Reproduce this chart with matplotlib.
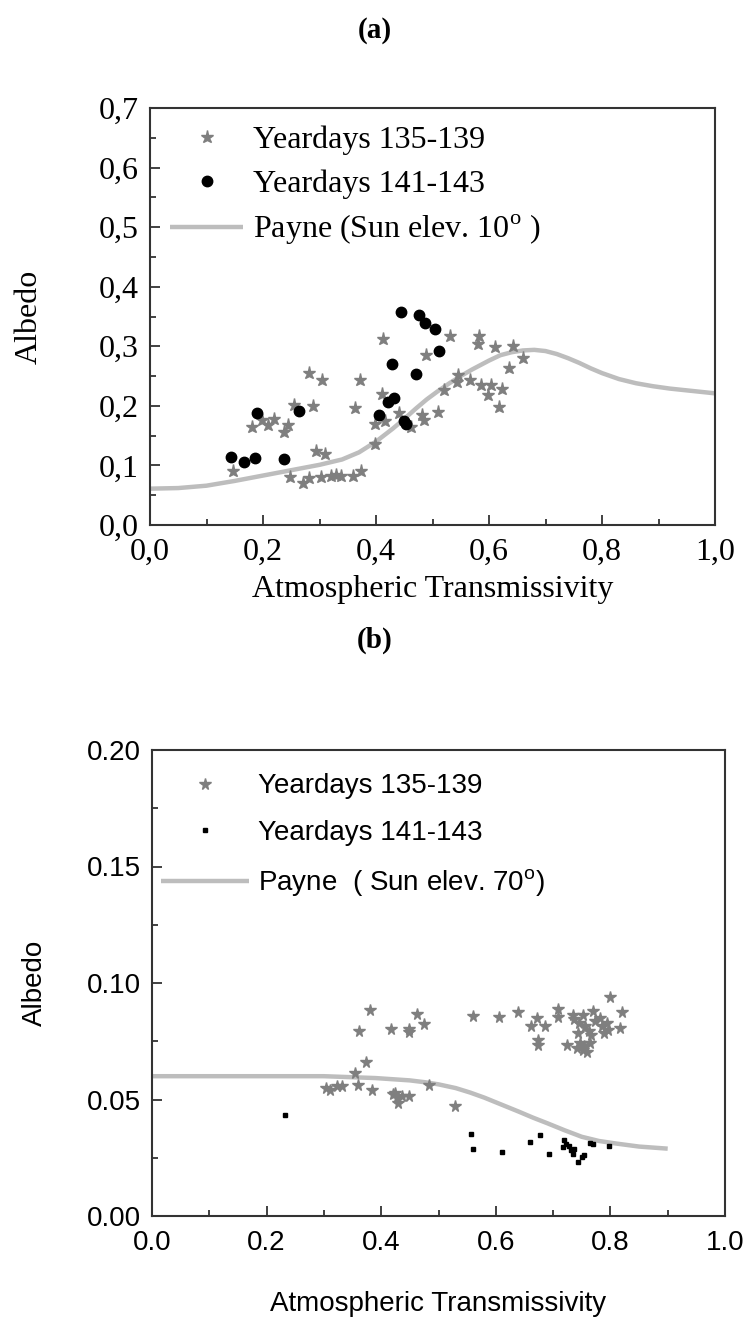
import matplotlib
matplotlib.use("Agg")
import matplotlib.pyplot as plt
from matplotlib.ticker import MultipleLocator, FuncFormatter

plt.rcParams['mathtext.fontset'] = 'custom'
plt.rcParams['mathtext.rm'] = 'Liberation Serif'
plt.rcParams['mathtext.sf'] = 'Liberation Sans'

# ---------------- Panel (a) data ----------------
a_star_x = [0.147, 0.181, 0.199, 0.209, 0.219, 0.237, 0.244, 0.255, 0.282, 0.289,
            0.304, 0.248, 0.271, 0.281, 0.293, 0.309, 0.303, 0.320, 0.330, 0.338,
            0.360, 0.373, 0.362, 0.372, 0.399, 0.399, 0.416, 0.411, 0.412, 0.441,
            0.462, 0.481, 0.485, 0.488, 0.510, 0.521, 0.531, 0.543, 0.546, 0.567,
            0.580, 0.583, 0.585, 0.599, 0.604, 0.610, 0.617, 0.623, 0.636, 0.643,
            0.661]
a_star_y = [0.091, 0.165, 0.176, 0.168, 0.178, 0.156, 0.168, 0.202, 0.255, 0.200,
            0.243, 0.081, 0.070, 0.079, 0.124, 0.119, 0.081, 0.083, 0.084, 0.083,
            0.082, 0.090, 0.196, 0.243, 0.136, 0.169, 0.175, 0.220, 0.313, 0.188,
            0.164, 0.184, 0.176, 0.286, 0.189, 0.226, 0.318, 0.240, 0.252, 0.243,
            0.303, 0.318, 0.235, 0.218, 0.235, 0.298, 0.198, 0.229, 0.263, 0.301,
            0.280]
a_dot_x = [0.143, 0.166, 0.186, 0.190, 0.237, 0.263, 0.405, 0.421, 0.431, 0.429,
           0.450, 0.453, 0.444, 0.476, 0.487, 0.504, 0.511, 0.471]
a_dot_y = [0.114, 0.105, 0.113, 0.188, 0.111, 0.191, 0.184, 0.207, 0.213, 0.270,
           0.174, 0.170, 0.357, 0.353, 0.339, 0.329, 0.292, 0.254]
a_payne_x = [0.00, 0.05, 0.10, 0.15, 0.20, 0.25, 0.30, 0.34, 0.37, 0.40, 0.43, 0.45,
             0.47, 0.49, 0.51, 0.53, 0.55, 0.57, 0.60, 0.62, 0.64, 0.66, 0.68, 0.70,
             0.72, 0.74, 0.76, 0.78, 0.80, 0.83, 0.86, 0.89, 0.92, 0.96, 1.00]
a_payne_y = [0.061, 0.062, 0.066, 0.074, 0.083, 0.092, 0.101, 0.110, 0.122, 0.140,
             0.162, 0.178, 0.195, 0.211, 0.225, 0.238, 0.250, 0.261, 0.276, 0.285,
             0.290, 0.293, 0.294, 0.292, 0.287, 0.280, 0.272, 0.263, 0.255, 0.245,
             0.238, 0.233, 0.229, 0.225, 0.221]

# ---------------- Panel (b) data ----------------
b_star_x = [0.381, 0.362, 0.417, 0.449, 0.448, 0.462, 0.474, 0.373, 0.355, 0.359,
            0.384, 0.304, 0.310, 0.323, 0.331, 0.420, 0.424, 0.428, 0.430, 0.436,
            0.449, 0.484, 0.529, 0.560, 0.606, 0.638, 0.662, 0.672, 0.686, 0.674,
            0.673, 0.708, 0.708, 0.724, 0.734, 0.737, 0.753, 0.770, 0.746, 0.744,
            0.756, 0.762, 0.767, 0.773, 0.782, 0.785, 0.788, 0.794, 0.796, 0.800,
            0.821, 0.817, 0.747, 0.754, 0.759, 0.752, 0.741, 0.765]
b_star_y = [0.0883, 0.0793, 0.0804, 0.0804, 0.0790, 0.0868, 0.0824, 0.0661, 0.0613, 0.0563,
            0.0542, 0.0549, 0.0539, 0.0556, 0.0559, 0.0524, 0.0527, 0.0510, 0.0487, 0.0513,
            0.0516, 0.0563, 0.0473, 0.0857, 0.0854, 0.0874, 0.0814, 0.0850, 0.0814, 0.0754,
            0.0732, 0.0889, 0.0854, 0.0732, 0.0864, 0.0846, 0.0864, 0.0878, 0.0828, 0.0785,
            0.0814, 0.0792, 0.0778, 0.0835, 0.0850, 0.0814, 0.0785, 0.0828, 0.0800, 0.0940,
            0.0874, 0.0807, 0.0742, 0.0728, 0.0706, 0.0714, 0.0721, 0.0742]
b_sq_x = [0.2325, 0.556, 0.560, 0.610, 0.659, 0.678, 0.692, 0.719, 0.722, 0.718,
          0.727, 0.731, 0.737, 0.735, 0.744, 0.750, 0.754, 0.765, 0.769, 0.798]
b_sq_y = [0.0433, 0.0351, 0.0289, 0.0275, 0.0318, 0.0347, 0.0265, 0.0325, 0.0311, 0.0297,
          0.0300, 0.0282, 0.0289, 0.0268, 0.0232, 0.0254, 0.0261, 0.0314, 0.0311, 0.0300]
b_payne_x = [0.00, 0.10, 0.20, 0.30, 0.39, 0.45, 0.48, 0.50, 0.53, 0.555, 0.58, 0.61,
             0.64, 0.665, 0.69, 0.72, 0.75, 0.78, 0.81, 0.85, 0.90]
b_payne_y = [0.0600, 0.0600, 0.0600, 0.0600, 0.0592, 0.0582, 0.0573, 0.0565, 0.0549, 0.0530,
             0.0508, 0.0478, 0.0448, 0.0422, 0.0398, 0.0368, 0.0340, 0.0322, 0.0311, 0.0298,
             0.0289]

STAR_C = '#7f7f7f'
LINE_C = '#bdbdbd'
W, H = 749, 1321
fig = plt.figure(figsize=(W / 100, H / 100), dpi=100)


def frac_axes(l, t, r, b):
    return fig.add_axes([l / W, 1 - b / H, (r - l) / W, (b - t) / H])


# ---------- (a) ----------
serif = 'Liberation Serif'
axA = frac_axes(150, 108, 715, 525)
axA.plot(a_payne_x, a_payne_y, color=LINE_C, lw=3.2, solid_capstyle='butt',
         solid_joinstyle='round', label='Payne (Sun elev. 10$^{\\mathrm{o}}$ )', zorder=1)
axA.plot(a_star_x, a_star_y, ls='none', marker='*', ms=9.5, color=STAR_C, mec=STAR_C,
         label='Yeardays 135-139', zorder=2)
axA.plot(a_dot_x, a_dot_y, ls='none', marker='o', ms=7.5, color='black',
         label='Yeardays 141-143', zorder=3)
axA.set_xlim(0, 1.0)
axA.set_ylim(0, 0.7)
axA.xaxis.set_major_locator(MultipleLocator(0.2))
axA.xaxis.set_minor_locator(MultipleLocator(0.1))
axA.yaxis.set_major_locator(MultipleLocator(0.1))
axA.yaxis.set_minor_locator(MultipleLocator(0.05))
comma = FuncFormatter(lambda v, p: f'{v:.1f}'.replace('.', ','))
axA.xaxis.set_major_formatter(comma)
axA.yaxis.set_major_formatter(comma)
axA.tick_params(which='both', direction='in', top=False, right=False,
                labelsize=23, width=1.3, color='#333333')
axA.tick_params(which='major', length=7)
axA.tick_params(axis='x', which='major', pad=9)
axA.tick_params(axis='y', which='major', pad=8)
axA.tick_params(which='minor', length=4)
for lab in axA.get_xticklabels() + axA.get_yticklabels():
    lab.set_fontfamily(serif)
for s in axA.spines.values():
    s.set_linewidth(1.5)
    s.set_color('#333333')
axA.set_xlabel('Atmospheric Transmissivity', fontsize=23, family=serif, labelpad=6)
axA.set_ylabel('Albedo', fontsize=23, family=serif, labelpad=40)
h, l = axA.get_legend_handles_labels()
order = [1, 2, 0]
axA.legend([h[i] for i in order], [l[i] for i in order], loc='upper left',
           bbox_to_anchor=(0.035, 0.958), frameon=False, prop={'family': serif, 'size': 23},
           handlelength=2.3, handletextpad=0.3, labelspacing=0.45, borderpad=0,
           borderaxespad=0)
fig.text(0.5, 1 - 30 / H, '(a)', ha='center', va='center', fontsize=21,
         fontweight='bold', family=serif)

# ---------- (b) ----------
sans = 'Liberation Sans'
axB = frac_axes(152, 750, 725, 1216)
axB.plot(b_payne_x, b_payne_y, color=LINE_C, lw=3.2, solid_capstyle='butt',
         solid_joinstyle='round', label='Payne  ( Sun elev. 70$^{\\mathsf{o}}$)', zorder=1)
axB.plot(b_star_x, b_star_y, ls='none', marker='*', ms=8.5, color=STAR_C, mec=STAR_C,
         label='Yeardays 135-139', zorder=2)
axB.plot(b_sq_x, b_sq_y, ls='none', marker='s', ms=3.2, color='black',
         label='Yeardays 141-143', zorder=3)
axB.set_xlim(0, 1.0)
axB.set_ylim(0, 0.20)
axB.xaxis.set_major_locator(MultipleLocator(0.2))
axB.xaxis.set_minor_locator(MultipleLocator(0.1))
axB.yaxis.set_major_locator(MultipleLocator(0.05))
axB.yaxis.set_minor_locator(MultipleLocator(0.025))
axB.xaxis.set_major_formatter(FuncFormatter(lambda v, p: f'{v:.1f}'))
axB.yaxis.set_major_formatter(FuncFormatter(lambda v, p: f'{v:.2f}'))
axB.tick_params(which='both', direction='in', top=False, right=False,
                labelsize=20, width=1.3, color='#333333')
axB.tick_params(which='major', length=7)
axB.tick_params(axis='x', which='major', pad=10)
axB.tick_params(axis='y', which='major', pad=8)
axB.tick_params(which='minor', length=4)
for lab in axB.get_xticklabels() + axB.get_yticklabels():
    lab.set_fontfamily(sans)
for s in axB.spines.values():
    s.set_linewidth(1.5)
    s.set_color('#333333')
axB.set_xlabel('Atmospheric Transmissivity', fontsize=20, family=sans, labelpad=25)
axB.set_ylabel('Albedo', fontsize=20, family=sans, labelpad=28)
h, l = axB.get_legend_handles_labels()
axB.legend([h[i] for i in order], [l[i] for i in order], loc='upper left',
           bbox_to_anchor=(0.015, 0.95), frameon=False, prop={'family': sans, 'size': 20},
           handlelength=3.2, handletextpad=0.3, labelspacing=0.75, borderpad=0,
           borderaxespad=0)
fig.text(0.5, 1 - 640 / H, '(b)', ha='center', va='center', fontsize=21,
         fontweight='bold', family=serif)

fig.savefig('out.png', dpi=100, facecolor='white')
